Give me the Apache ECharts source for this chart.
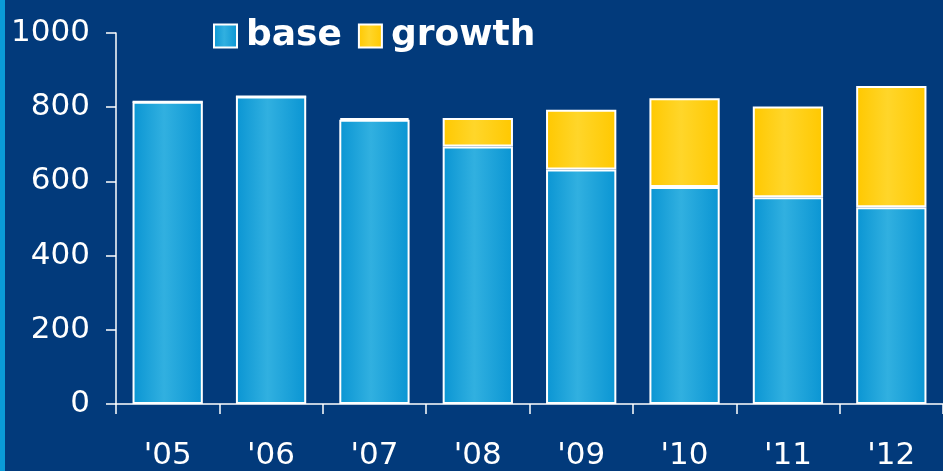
<!DOCTYPE html>
<html>
<head>
<meta charset="utf-8">
<script src="https://cdn.jsdelivr.net/npm/echarts@6/dist/echarts.min.js"></script>
<style>
html,body{margin:0;padding:0;background:#023a7b;}
#c{width:943px;height:471px;}
</style>
</head>
<body>
<div id="c"></div>
<script>
const categories = ["'05","'06","'07","'08","'09","'10","'11","'12"];
const baseValues = [815, 829, 766, 694, 632, 585, 557, 530];
const growthValues = [0, 0, 5, 77, 161, 239, 245, 327];
const yTicks = [0, 200, 400, 600, 800, 1000];

const blueGrad = new echarts.graphic.LinearGradient(0, 0, 1, 0, [
  {offset: 0, color: '#0a95d3'},
  {offset: 0.45, color: '#31b0e0'},
  {offset: 1, color: '#0a95d3'}
]);
const yellowGrad = new echarts.graphic.LinearGradient(0, 0, 1, 0, [
  {offset: 0, color: '#ffc800'},
  {offset: 0.45, color: '#ffd62a'},
  {offset: 1, color: '#ffc800'}
]);

const chart = echarts.init(document.getElementById('c'), null, {renderer: 'canvas'});
chart.setOption({
  backgroundColor: '#023a7b',
  animation: false,
  textStyle: {fontFamily: 'DejaVu Sans'},
  graphic: [{
    type: 'rect', left: 0, top: 0,
    shape: {width: 5, height: 471},
    style: {fill: '#0a9bd8'}
  }],
  legend: {
    left: 208, top: 13,
    itemWidth: 23, itemHeight: 23,
    itemGap: 16,
    icon: 'rect',
    textStyle: {color: '#ffffff', fontSize: 36, fontWeight: 'bold', fontFamily: 'DejaVu Sans', padding: [0, 0, 0, 4]},
    data: ['base', 'growth']
  },
  grid: {left: 116, top: 33, bottom: 66, right: -5, containLabel: false},
  xAxis: {
    type: 'category',
    data: categories,
    axisLine: {lineStyle: {color: '#ffffff', width: 1.5}},
    axisTick: {show: true, length: 10, lineStyle: {color: '#ffffff', width: 1.5}},
    axisLabel: {color: '#ffffff', fontSize: 31, margin: 36, fontFamily: 'DejaVu Sans'}
  },
  yAxis: {
    type: 'value',
    min: 0, max: 1000, interval: 200,
    axisLine: {show: true, lineStyle: {color: '#ffffff', width: 1.5}},
    axisTick: {show: true, length: 10, lineStyle: {color: '#ffffff', width: 1.5}},
    splitLine: {show: false},
    axisLabel: {color: '#ffffff', fontSize: 31, margin: 26, fontFamily: 'DejaVu Sans',
      formatter: v => yTicks.includes(v) ? String(v) : ''}
  },
  series: [
    {
      name: 'base', type: 'bar', stack: 'total',
      data: baseValues, barWidth: '68%',
      itemStyle: {color: blueGrad, borderColor: '#ffffff', borderWidth: 2}
    },
    {
      name: 'growth', type: 'bar', stack: 'total',
      data: growthValues, barWidth: '68%',
      itemStyle: {color: yellowGrad, borderColor: '#ffffff', borderWidth: 2}
    }
  ]
});
</script>
</body>
</html>
